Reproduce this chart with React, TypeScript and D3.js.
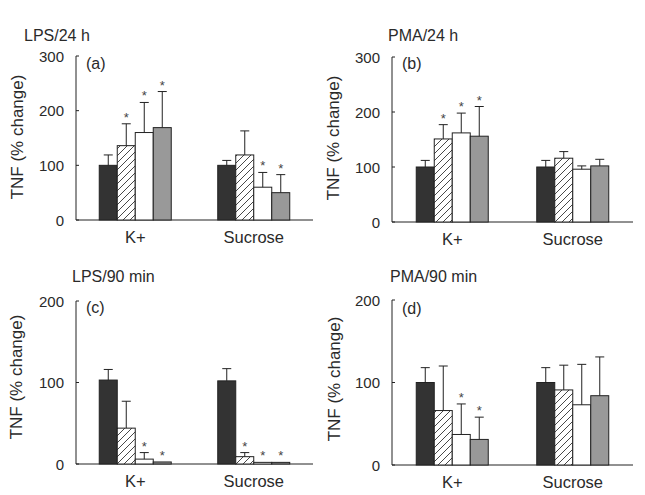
import React from "react";
import * as d3 from "d3";

// ---------- data ----------
const categories = ["K+", "Sucrose"];
const treatments = ["Control", "Dose 1", "Dose 2", "Dose 3"];

const titles = ["LPS/24 h", "PMA/24 h", "LPS/90 min", "PMA/90 min"];
const panelLetters = ["(a)", "(b)", "(c)", "(d)"];
const yMaxes = [300, 300, 200, 200];
const yTicksA = [0, 100, 200, 300];
const yTicksC = [0, 100, 200];

// means [category][treatment]
const meansA = [[100, 136, 160, 169], [100, 119, 60, 50]];
const errA = [[19, 40, 55, 66], [9, 44, 27, 33]];
const starsA = [[false, true, true, true], [false, false, true, true]];

const meansB = [[100, 151, 162, 156], [100, 116, 96, 102]];
const errB = [[12, 26, 36, 54], [12, 12, 6, 12]];
const starsB = [[false, true, true, true], [false, false, false, false]];

const meansC = [[103, 44, 6, 2.5], [102, 9, 2, 2]];
const errC = [[13, 33, 8, 0], [15, 5, 0, 0]];
const starsC = [[false, false, true, true], [false, true, true, true]];

const meansD = [[100, 66, 37, 31], [100, 91, 73, 84]];
const errD = [[18, 54, 37, 27], [18, 30, 49, 47]];
const starsD = [[false, false, true, true], [false, false, false, false]];

const FONT = "'Liberation Sans', Arial, Helvetica, sans-serif";
const TEXT = "#2a2a2a";
const fills = ["#333333", "url(#hatch)", "#ffffff", "#999999"];

type PanelProps = {
  idx: number;
  x0: number; x1: number; y0: number; y1: number;
  means: number[][]; errs: number[][]; stars: boolean[][];
  ticks: number[];
  titlePos: [number, number];
  letterPos: [number, number];
  yLabelPos: [number, number];
  catLabelY: number;
};

function Panel(p: PanelProps) {
  const y = d3.scaleLinear().domain([0, yMaxes[p.idx]]).range([p.y0, p.y1]);
  const xc = d3.scalePoint<string>().domain(categories).range([p.x0, p.x1]).padding(0.5);
  const groupW = 72;
  const xs = d3.scaleBand<string>().domain(treatments).range([-groupW / 2, groupW / 2]).padding(0);
  const bw = xs.bandwidth();
  return (
    <g>
      <text x={p.titlePos[0]} y={p.titlePos[1]} fontSize={16} fill={TEXT} fontFamily={FONT}>
        {titles[p.idx]}
      </text>
      <text x={p.letterPos[0]} y={p.letterPos[1]} fontSize={16} fill={TEXT} fontFamily={FONT}>
        {panelLetters[p.idx]}
      </text>
      <text
        transform={`translate(${p.yLabelPos[0]},${p.yLabelPos[1]}) rotate(-90)`}
        textAnchor="middle" fontSize={17} fill={TEXT} fontFamily={FONT}
      >
        TNF (% change)
      </text>
      {/* axes */}
      <line x1={p.x0} x2={p.x0} y1={y(yMaxes[p.idx])} y2={p.y0} stroke="#222" strokeWidth={1} />
      <line x1={p.x0} x2={p.x1} y1={p.y0} y2={p.y0} stroke="#222" strokeWidth={1} />
      {p.ticks.map((t) => (
        <g key={t}>
          <line x1={p.x0} x2={p.x0 + 3} y1={y(t)} y2={y(t)} stroke="#222" />
          <text x={p.x0 - 12} y={y(t) + 5.5} textAnchor="end" fontSize={15} fill={TEXT} fontFamily={FONT}>
            {t}
          </text>
        </g>
      ))}
      {categories.map((c, ci) => (
        <g key={c}>
          <text x={xc(c)} y={p.catLabelY} textAnchor="middle" fontSize={16.5} fill={TEXT} fontFamily={FONT}>
            {c}
          </text>
          {treatments.map((t, ti) => {
            const m = p.means[ci][ti];
            const e = p.errs[ci][ti];
            const bx = (xc(c) as number) + (xs(t) as number);
            const cx = bx + bw / 2;
            const top = y(m);
            const etop = y(m + e);
            return (
              <g key={t}>
                <rect x={bx} y={top} width={bw} height={p.y0 - top} fill={fills[ti]} stroke="#222" strokeWidth={1} />
                {e > 0 && (
                  <g stroke="#222" strokeWidth={1}>
                    <line x1={cx} x2={cx} y1={top} y2={etop} />
                    <line x1={cx - 4.5} x2={cx + 4.5} y1={etop} y2={etop} />
                  </g>
                )}
                {p.stars[ci][ti] && (
                  <text x={cx} y={Math.min(top, etop) - 2} textAnchor="middle" fontSize={13} fill="#444" fontFamily={FONT}>
                    *
                  </text>
                )}
              </g>
            );
          })}
        </g>
      ))}
    </g>
  );
}

export default function App() {
  return (
    <svg width={645} height={495} style={{ position: "absolute", left: 0, top: 0, background: "#fff" }}>
      <defs>
        <pattern id="hatch" patternUnits="userSpaceOnUse" width={7} height={7}>
          <rect width={7} height={7} fill="#fff" />
          <path d="M-1,1 l2,-2 M0,7 l7,-7 M6,8 l2,-2" stroke="#333" strokeWidth={0.9} />
        </pattern>
      </defs>
      <rect width={645} height={495} fill="#fff" />
      <Panel idx={0} x0={76} x1={313} y0={220} y1={56} means={meansA} errs={errA} stars={starsA}
        ticks={yTicksA} titlePos={[24, 41]} letterPos={[86, 69]} yLabelPos={[23, 137]} catLabelY={243} />
      <Panel idx={1} x0={392} x1={633} y0={222} y1={57} means={meansB} errs={errB} stars={starsB}
        ticks={yTicksA} titlePos={[388, 41]} letterPos={[402, 69]} yLabelPos={[339, 138]} catLabelY={245} />
      <Panel idx={2} x0={76} x1={313} y0={464} y1={301} means={meansC} errs={errC} stars={starsC}
        ticks={yTicksC} titlePos={[72, 282]} letterPos={[86, 313]} yLabelPos={[22, 377]} catLabelY={487} />
      <Panel idx={3} x0={392} x1={633} y0={465} y1={300} means={meansD} errs={errD} stars={starsD}
        ticks={yTicksC} titlePos={[390, 282]} letterPos={[402, 314]} yLabelPos={[340, 379]} catLabelY={488} />
    </svg>
  );
}
